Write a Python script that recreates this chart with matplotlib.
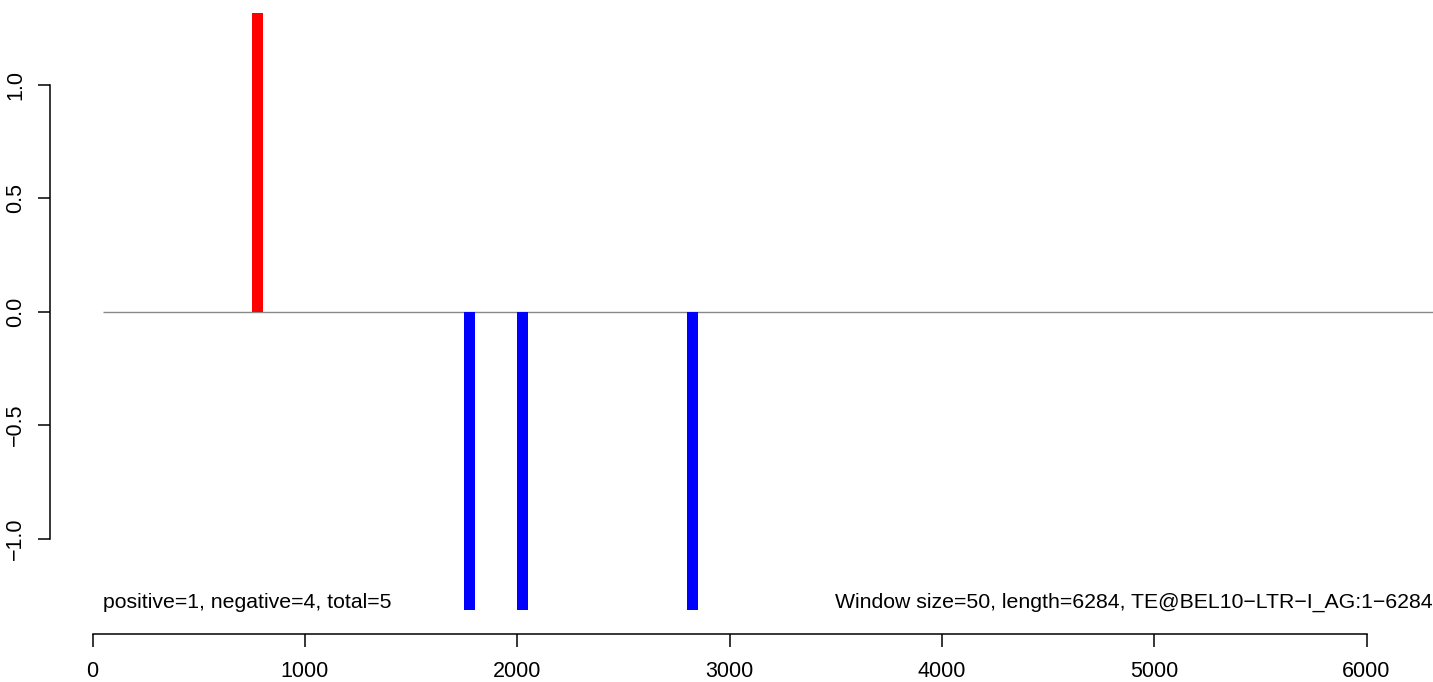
import numpy as np
import matplotlib.pyplot as plt

plt.rcParams['font.family'] = ['Liberation Sans', 'DejaVu Sans']

# window centres and scores
pos_x = [775]
pos_y = [1.315]
neg_x = [1775, 2025, 2825]
neg_y = [-1.315, -1.315, -1.315]

window = 50
seq_len = 6284
left_label = "positive=1, negative=4, total=5"
right_label = "Window size=50, length=6284, TE@BEL10\u2212LTR\u2212I_AG:1\u22126284"
xticks = [0, 1000, 2000, 3000, 4000, 5000, 6000]
yticks = [-1.0, -0.5, 0.0, 0.5, 1.0]

W, H = 1433, 682
fig = plt.figure(figsize=(W / 100, H / 100), dpi=100)
ax = fig.add_axes([50 / W, (H - 634) / H, (W - 50) / W, 634 / H])
ax.set_xlim(-201, 6313)
ax.set_ylim(-1.420, 1.373)

# zero line
ax.hlines(0, window, 6313, color='#888888', lw=1.0, zorder=1)

# score bars
ax.bar(pos_x, pos_y, width=window, color='red', zorder=2)
ax.bar(neg_x, neg_y, width=window, color='blue', zorder=2)

# labels inside the plot
ax.text(window, -1.28, left_label, ha='left', va='center', fontsize=15.3)
ax.text(6313, -1.28, right_label, ha='right', va='center', fontsize=15.3)

# R-style axes
for s in ['top', 'right']:
    ax.spines[s].set_visible(False)
ax.spines['left'].set_bounds(-1, 1)
ax.spines['bottom'].set_bounds(0, 6000)
ax.spines['left'].set_linewidth(1.1)
ax.spines['bottom'].set_linewidth(1.1)

ax.set_xticks(xticks)
ax.set_xticklabels([str(t) for t in xticks])
ax.set_yticks(yticks)
ax.set_yticklabels(['\u22121.0', '\u22120.5', '0.0', '0.5', '1.0'], rotation=90, va='center')
ax.tick_params(axis='both', length=9, width=1.1, labelsize=15.5)
ax.tick_params(axis='x', pad=10.5)
ax.tick_params(axis='y', pad=8)

fig.savefig('out.png', dpi=100)
